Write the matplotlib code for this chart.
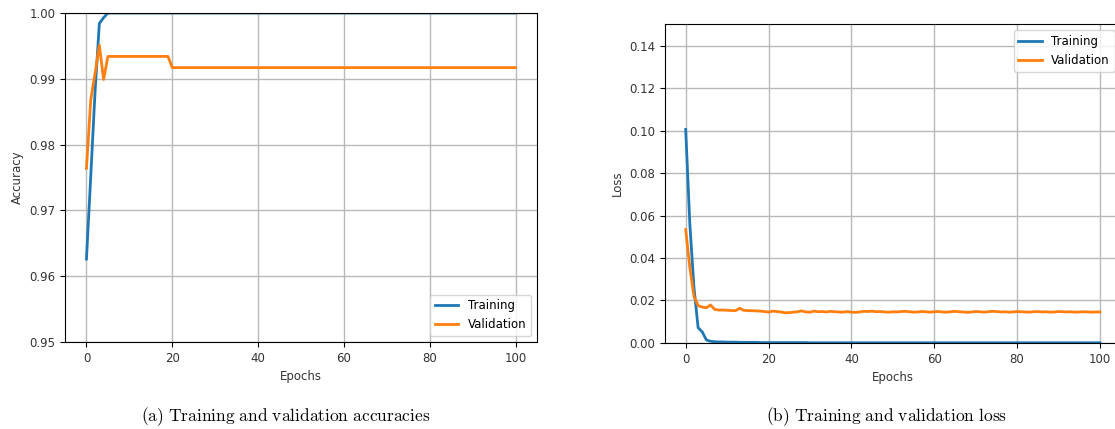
import matplotlib.pyplot as plt

plt.rcParams['mathtext.fontset'] = 'cm'

epochs = list(range(101))

# accuracy per epoch
train_acc = [
    0.9626, 0.9752, 0.9880, 0.9984, 0.9993, 1.0, 1.0, 1.0, 1.0, 1.0,
    1.0, 1.0, 1.0, 1.0, 1.0, 1.0, 1.0, 1.0, 1.0, 1.0,
    1.0, 1.0, 1.0, 1.0, 1.0, 1.0, 1.0, 1.0, 1.0, 1.0,
    1.0, 1.0, 1.0, 1.0, 1.0, 1.0, 1.0, 1.0, 1.0, 1.0,
    1.0, 1.0, 1.0, 1.0, 1.0, 1.0, 1.0, 1.0, 1.0, 1.0,
    1.0, 1.0, 1.0, 1.0, 1.0, 1.0, 1.0, 1.0, 1.0, 1.0,
    1.0, 1.0, 1.0, 1.0, 1.0, 1.0, 1.0, 1.0, 1.0, 1.0,
    1.0, 1.0, 1.0, 1.0, 1.0, 1.0, 1.0, 1.0, 1.0, 1.0,
    1.0, 1.0, 1.0, 1.0, 1.0, 1.0, 1.0, 1.0, 1.0, 1.0,
    1.0, 1.0, 1.0, 1.0, 1.0, 1.0, 1.0, 1.0, 1.0, 1.0,
    1.0,
]
val_acc = [
    0.9764, 0.9868, 0.9908, 0.9951, 0.9899, 0.9934, 0.9934, 0.9934, 0.9934, 0.9934,
    0.9934, 0.9934, 0.9934, 0.9934, 0.9934, 0.9934, 0.9934, 0.9934, 0.9934, 0.9934,
    0.9917, 0.9917, 0.9917, 0.9917, 0.9917, 0.9917, 0.9917, 0.9917, 0.9917, 0.9917,
    0.9917, 0.9917, 0.9917, 0.9917, 0.9917, 0.9917, 0.9917, 0.9917, 0.9917, 0.9917,
    0.9917, 0.9917, 0.9917, 0.9917, 0.9917, 0.9917, 0.9917, 0.9917, 0.9917, 0.9917,
    0.9917, 0.9917, 0.9917, 0.9917, 0.9917, 0.9917, 0.9917, 0.9917, 0.9917, 0.9917,
    0.9917, 0.9917, 0.9917, 0.9917, 0.9917, 0.9917, 0.9917, 0.9917, 0.9917, 0.9917,
    0.9917, 0.9917, 0.9917, 0.9917, 0.9917, 0.9917, 0.9917, 0.9917, 0.9917, 0.9917,
    0.9917, 0.9917, 0.9917, 0.9917, 0.9917, 0.9917, 0.9917, 0.9917, 0.9917, 0.9917,
    0.9917, 0.9917, 0.9917, 0.9917, 0.9917, 0.9917, 0.9917, 0.9917, 0.9917, 0.9917,
    0.9917,
]

# loss per epoch
train_loss = [
    0.1005, 0.0560, 0.0260, 0.0072, 0.0052, 0.0014, 0.0008, 0.0006, 0.0005, 0.0005,
    0.0004, 0.0004, 0.0004, 0.0003, 0.0003, 0.0003, 0.0003, 0.0003, 0.0002, 0.0002,
    0.0002, 0.0002, 0.0002, 0.0002, 0.0002, 0.0002, 0.0002, 0.0002, 0.0002, 0.0002,
    0.0001, 0.0001, 0.0001, 0.0001, 0.0001, 0.0001, 0.0001, 0.0001, 0.0001, 0.0001,
    0.0001, 0.0001, 0.0001, 0.0001, 0.0001, 0.0001, 0.0001, 0.0001, 0.0001, 0.0001,
    0.0001, 0.0001, 0.0001, 0.0001, 0.0001, 0.0001, 0.0001, 0.0001, 0.0001, 0.0001,
    0.0001, 0.0001, 0.0001, 0.0001, 0.0001, 0.0001, 0.0001, 0.0001, 0.0001, 0.0001,
    0.0001, 0.0001, 0.0001, 0.0001, 0.0001, 0.0001, 0.0001, 0.0001, 0.0001, 0.0001,
    0.0001, 0.0001, 0.0001, 0.0001, 0.0001, 0.0001, 0.0001, 0.0001, 0.0001, 0.0001,
    0.0001, 0.0001, 0.0001, 0.0001, 0.0001, 0.0001, 0.0001, 0.0001, 0.0001, 0.0001,
    0.0001,
]
val_loss = [
    0.0534, 0.0355, 0.0219, 0.0176, 0.0169, 0.0166, 0.0179, 0.0158, 0.0155, 0.0155,
    0.0154, 0.0153, 0.0152, 0.0163, 0.0154, 0.0152, 0.0152, 0.0151, 0.0150, 0.0148,
    0.0145, 0.0150, 0.0148, 0.0146, 0.0142, 0.0143, 0.0145, 0.0147, 0.0151, 0.0146,
    0.0145, 0.0150, 0.0147, 0.0148, 0.0146, 0.0149, 0.0147, 0.0146, 0.0145, 0.0148,
    0.0145, 0.0144, 0.0146, 0.0149, 0.0148, 0.0150, 0.0147, 0.0148, 0.0146, 0.0145,
    0.0147, 0.0146, 0.0148, 0.0149, 0.0147, 0.0145, 0.0146, 0.0148, 0.0147, 0.0145,
    0.0147, 0.0148, 0.0146, 0.0145, 0.0147, 0.0149, 0.0147, 0.0146, 0.0144, 0.0146,
    0.0148, 0.0147, 0.0145, 0.0147, 0.0149, 0.0148, 0.0146, 0.0147, 0.0145, 0.0146,
    0.0148, 0.0147, 0.0146, 0.0145, 0.0147, 0.0148, 0.0146, 0.0147, 0.0145, 0.0146,
    0.0148, 0.0147, 0.0146, 0.0147, 0.0145, 0.0146, 0.0147, 0.0146, 0.0145, 0.0146,
    0.0146,
]

blue = '#1f77b4'
orange = '#ff7f0e'

fig = plt.figure(figsize=(11.15, 4.29), dpi=100)

# (a) accuracy
ax1 = fig.add_axes([0.0583, 0.2028, 0.4233, 0.7669])
ax1.plot(epochs, train_acc, color=blue, lw=2, label='Training')
ax1.plot(epochs, val_acc, color=orange, lw=2, label='Validation')
ax1.set_xlim(-5, 105)
ax1.set_ylim(0.95, 1.0)
ax1.set_xticks([0, 20, 40, 60, 80, 100])
ax1.set_yticks([0.95, 0.96, 0.97, 0.98, 0.99, 1.00])
ax1.grid(True, color='#b8b8b8', lw=1)
ax1.set_xlabel('Epochs', fontsize=8.5, color='#333333')
ax1.set_ylabel('Accuracy', fontsize=8.5, color='#333333')
ax1.tick_params(labelsize=8.5, labelcolor='#333333')
ax1.legend(loc='lower right', fontsize=8.5)

# (b) loss
ax2 = fig.add_axes([0.5964, 0.2005, 0.4086, 0.7429])
ax2.plot(epochs, train_loss, color=blue, lw=2, label='Training')
ax2.plot(epochs, val_loss, color=orange, lw=2, label='Validation')
ax2.set_xlim(-5, 105)
ax2.set_ylim(0, 0.15)
ax2.set_xticks([0, 20, 40, 60, 80, 100])
ax2.set_yticks([0.00, 0.02, 0.04, 0.06, 0.08, 0.10, 0.12, 0.14])
ax2.grid(True, color='#b8b8b8', lw=1)
ax2.set_xlabel('Epochs', fontsize=8.5, color='#333333')
ax2.set_ylabel('Loss', fontsize=8.5, color='#333333')
ax2.tick_params(labelsize=8.5, labelcolor='#333333')
ax2.legend(loc='upper right', fontsize=8.5)

fig.text(0.256, 0.018, r'$\mathrm{(a)\ Training\ and\ validation\ accuracies}$',
         ha='center', fontsize=12.5)
fig.text(0.795, 0.018, r'$\mathrm{(b)\ Training\ and\ validation\ loss}$',
         ha='center', fontsize=12.5)

fig.savefig('out.png', dpi=100)
